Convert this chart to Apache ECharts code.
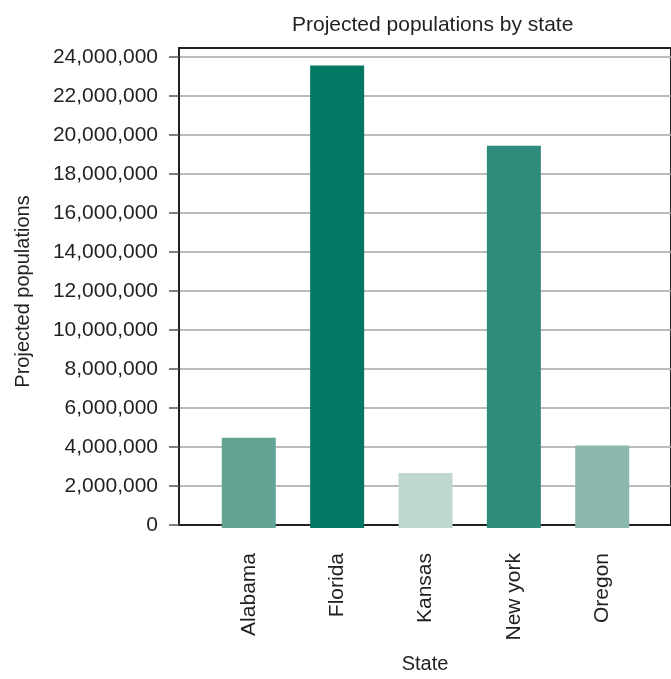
<!DOCTYPE html>
<html>
<head>
<meta charset="utf-8">
<script src="https://cdn.jsdelivr.net/npm/echarts@6/dist/echarts.min.js"></script>
<style>html,body{margin:0;padding:0;background:#fff;}#c{width:671px;height:679px;}</style>
</head>
<body>
<div id="c"></div>
<script>
var states = ['Alabama', 'Florida', 'Kansas', 'New york', 'Oregon'];
var populations = [4600000, 23570000, 2800000, 19480000, 4210000];
var barColors = ['#62a394', '#027863', '#bed7d1', '#2f8b7b', '#8ab8ac'];
var yTicks = [0, 2000000, 4000000, 6000000, 8000000, 10000000, 12000000, 14000000, 16000000, 18000000, 20000000, 22000000, 24000000];
var yMax = 24460000;

var FONT = "'Liberation Sans', Arial, Helvetica, sans-serif";
var TXT = '#231f20';

function fmt(v) { return String(v).replace(/\B(?=(\d{3})+(?!\d))/g, ','); }

var chart = echarts.init(document.getElementById('c'), null, {renderer: 'canvas'});
chart.setOption({
  backgroundColor: '#ffffff',
  animation: false,
  title: {
    text: 'Projected populations by state',
    left: 287, top: 10,
    textStyle: {fontFamily: FONT, fontSize: 21, fontWeight: 'normal', color: TXT}
  },
  grid: [
    {left: 179, right: -10, top: 48, bottom: 151, show: true, borderColor: TXT, borderWidth: 2, backgroundColor: 'transparent'},
    {left: 204.6, right: 24.6, top: 48, bottom: 151}
  ],
  xAxis: [
    {
      type: 'value', gridIndex: 0, min: 0, max: 1,
      name: 'State', nameLocation: 'middle', nameGap: 129,
      nameTextStyle: {fontFamily: FONT, fontSize: 20, color: TXT},
      axisLine: {show: true, lineStyle: {color: TXT, width: 2}},
      axisTick: {show: false}, axisLabel: {show: false}, splitLine: {show: false}
    },
    {
      type: 'category', gridIndex: 1, data: states,
      axisLine: {show: false}, axisTick: {show: false},
      axisLabel: {rotate: 90, margin: 25, interval: 0, fontFamily: FONT, fontSize: 21, color: TXT},
      splitLine: {show: false}
    }
  ],
  yAxis: [
    {
      type: 'value', gridIndex: 0, min: 0, max: yMax, interval: 2000000,
      name: 'Projected populations', nameLocation: 'middle', nameGap: 146, nameRotate: 90,
      nameTextStyle: {fontFamily: FONT, fontSize: 20, color: TXT, padding: [0, 10, 0, 0]},
      axisLine: {show: true, lineStyle: {color: TXT, width: 2}},
      axisTick: {show: true, inside: false, length: 10, customValues: yTicks, lineStyle: {color: '#555', width: 1.5}},
      axisLabel: {margin: 21, customValues: yTicks, formatter: function (v) { return fmt(v); }, fontFamily: FONT, fontSize: 21, color: TXT},
      splitLine: {show: true, lineStyle: {color: '#a4a4a4', width: 1.5}}
    },
    {
      type: 'value', gridIndex: 1, min: 0, max: yMax, show: false,
      splitLine: {show: false}
    }
  ],
  series: [{
    type: 'bar', xAxisIndex: 1, yAxisIndex: 1, barWidth: 54,
    data: populations.map(function (v, i) { return {value: v, itemStyle: {color: barColors[i]}}; })
  }]
});
</script>
</body>
</html>
